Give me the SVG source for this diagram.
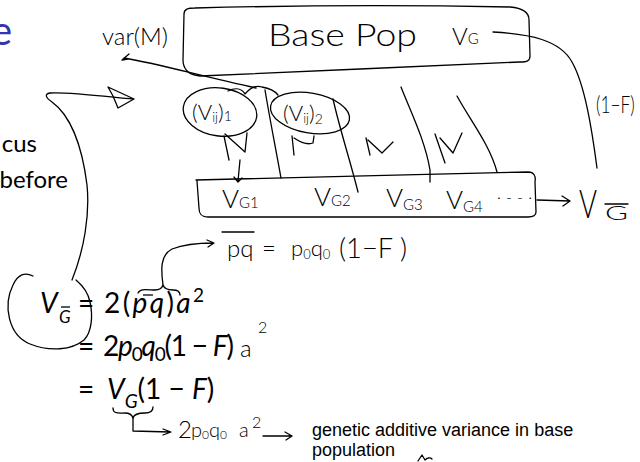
<svg xmlns="http://www.w3.org/2000/svg" width="640" height="462" viewBox="0 0 640 462">
<style>
.slide{font-family:Lato,"Open Sans","Liberation Sans",sans-serif;fill:#000}
.math{font-family:Lato,"Open Sans","Liberation Sans",sans-serif;font-style:italic;fill:#000}
.rm{font-style:normal}
.hw{font-family:Lato,"Liberation Sans",sans-serif;font-weight:300;fill:#000}
.ink{fill:none;stroke:#000;stroke-width:1.3;stroke-linecap:round;stroke-linejoin:round}
.cap{font-family:"Liberation Sans",Arial,sans-serif;font-size:18px;fill:#000}
</style>
<rect width="640" height="462" fill="#fff"/>

<g id="slide-text">
<text class="slide" x="12" y="45" font-size="40" style="fill:#3333b3" text-anchor="end">e</text>
<text class="slide" x="37" y="152" font-size="24" text-anchor="end">cus</text>
<text class="slide" x="68" y="188" font-size="24" text-anchor="end">before</text>
</g>

<g id="base-pop">
<path class="ink" d="M195,8 Q350,4 510,7 C522,8 529,12 529,20 L530,56 C530,61 527,62 520,62 C420,66 300,72 200,76 L195,75 C188,74 183,68 183,60 L184,14 C184,9 188,8 195,8"/>
<text class="hw" x="268" y="46" font-size="32" textLength="149" lengthAdjust="spacingAndGlyphs">Base Pop</text>
<text class="hw" x="452" y="45" font-size="24">V<tspan font-size="15" dy="-1">G</tspan></text>
</g>

<g id="var-m">
<text class="hw" x="102" y="45" font-size="24" textLength="66" lengthAdjust="spacingAndGlyphs">var(M)</text>
</g>

<g id="ellipse-1">
<ellipse class="ink" cx="220" cy="112" rx="37" ry="24" transform="rotate(8 220 112)"/>
<text class="hw" x="192" y="120" font-size="22">(V<tspan font-size="13" dy="2">ij</tspan><tspan dy="-2">)</tspan><tspan font-size="14" dy="1">1</tspan></text>
</g>

<g id="ellipse-2">
<ellipse class="ink" cx="310" cy="113" rx="40" ry="20" transform="rotate(10 310 113)"/>
<text class="hw" x="283" y="121" font-size="22">(V<tspan font-size="13" dy="2">ij</tspan><tspan dy="-2">)</tspan><tspan font-size="14" dy="3">2</tspan></text>
</g>

<g id="lower-box">
<path class="ink" d="M196,180 C300,178 420,174 528,172 C534,172 536,176 535,182 L536,212 C536,216 533,217 528,217 L208,217 C201,217 199,214 199,208 L197,181"/>
<text class="hw" x="222" y="208" font-size="26">V<tspan font-size="15">G1</tspan></text>
<text class="hw" x="314" y="206" font-size="26">V<tspan font-size="15">G2</tspan></text>
<text class="hw" x="386" y="207" font-size="26">V<tspan font-size="15" dy="3">G3</tspan></text>
<text class="hw" x="446" y="209" font-size="26">V<tspan font-size="15" dy="3">G4</tspan></text>
<text class="hw" x="497" y="203" font-size="16" textLength="35">· - - ·</text>
</g>

<g id="marks">
<path class="ink" d="M224,136 L229,160 M225,134 L245,152 L247,133"/>
<path class="ink" d="M292,136 L294,155 M294,138 C300,142 308,145 313,143 L314,136"/>
<path class="ink" d="M366,138 L370,155 M368,140 L382,153 L393,142"/>
<path class="ink" d="M435,134 L445,163 M440,138 L453,153 L462,133"/>
<path class="ink" d="M228,91 C236,87 242,89 245,94 C250,88 256,85 262,87 C268,88 274,90 278,95"/>
</g>

<g id="vg-bar">
<text class="hw" x="579" y="218" font-size="40" textLength="18" lengthAdjust="spacingAndGlyphs">V</text>
<line class="ink" x1="605" y1="204" x2="628" y2="204"/>
<text class="hw" x="605" y="220" font-size="20" textLength="23" lengthAdjust="spacingAndGlyphs">G</text>
<text class="hw" font-size="24" transform="translate(596,113) scale(0.72,1)">(1−F)</text>
</g>

<g id="connectors">
<path class="ink" d="M256,88 C200,76 160,64 124,58 M129,54 L122,60 L128,59"/>
<path class="ink" d="M133,99 C110,97 70,92 50,93 C44,94 46,98 52,102 C70,115 82,145 87,185 C90,215 84,250 72,280"/>
<path class="ink" d="M108,87 L134,99 L118,108 L113,96 Z"/>
<path class="ink" d="M265,90 C270,120 276,150 281,178"/>
<path class="ink" d="M333,99 C340,130 350,160 358,192"/>
<path class="ink" d="M401,87 C410,110 425,140 430,170 L430,182"/>
<path class="ink" d="M457,96 C470,120 490,145 497,172"/>
<path class="ink" d="M493,32 C530,34 560,40 572,62 C585,85 592,130 597,168"/>
<path class="ink" d="M537,200 L570,201 M562,196 L570,201 L563,206"/>
<path class="ink" d="M240,160 L238,181 M234,177 L238,182 L242,178"/>
<path class="ink" d="M163,285 C161,270 160,255 172,249 C185,244 200,243 213,243 M207,240 L214,243 L208,247"/>
<path class="ink" d="M133,418 L133,431 L170,432 M163,429 L171,432 L163,435"/>
<path class="ink" d="M263,436 L292,436 M285,432 L292,436 L286,440"/>
</g>

<g id="equation">
<path class="ink" d="M33,276 C25,272 18,274 13,285 C3,305 8,335 30,344 C50,352 72,350 84,340 C92,332 93,315 90,302 C88,292 82,285 76,280"/>
<text class="math" x="40" y="313" font-size="28">V</text>
<text class="math" x="59" y="323" font-size="17">G</text>
<line x1="61" y1="307" x2="70" y2="307" stroke="#000" stroke-width="1.3"/>
<text class="math rm" x="78" y="313" font-size="28">=</text>
<text class="math" x="104" y="313" font-size="28" textLength="100"><tspan class="rm">2(</tspan>pq<tspan class="rm">)</tspan>a<tspan class="rm" font-size="19" dy="-11">2</tspan></text>
<line x1="143" y1="295" x2="153" y2="295" stroke="#000" stroke-width="1.3"/>
<path class="ink" d="M138,293 C140,288 148,290 155,290 C160,290 162,288 163,285 C164,288 168,290 173,290 C178,290 180,292 180,295"/>

<text class="math rm" x="78" y="356" font-size="28">=</text>
<text class="math" x="103" y="356" font-size="28" textLength="131"><tspan class="rm">2</tspan>p<tspan class="rm" font-size="19" dy="5">0</tspan><tspan dy="-5">q</tspan><tspan class="rm" font-size="19" dy="5">0</tspan><tspan class="rm" dy="-5">(1 − </tspan>F<tspan class="rm">)</tspan></text>
<text class="hw" x="240" y="357" font-size="24">a</text>
<text class="hw" x="258" y="333" font-size="16">2</text>

<text class="math rm" x="78" y="399" font-size="28">=</text>
<text class="math" x="107" y="399" font-size="28">V<tspan font-size="19" dy="9">G</tspan><tspan class="rm" dy="-9">(1 − </tspan>F<tspan class="rm">)</tspan></text>
<path class="ink" d="M113,408 C113,414 118,413 125,413 C130,413 132,415 133,418 C134,414 138,413 145,413 C151,413 153,411 153,407"/>
</g>

<g id="pq-note">
<line class="ink" x1="222" y1="232" x2="254" y2="232"/>
<text class="hw" x="227" y="257" font-size="24">pq</text>
<text class="hw" x="262" y="257" font-size="24">=</text>
<text class="hw" x="291" y="256" font-size="22">p<tspan font-size="13" dy="3">0</tspan><tspan dy="-3">q</tspan><tspan font-size="13" dy="3">0</tspan></text>
<text class="hw" x="339" y="258" font-size="28" textLength="68" lengthAdjust="spacingAndGlyphs">(1−F )</text>
</g>

<g id="base-note">
<text class="hw" x="178" y="438" font-size="24">2</text>
<text class="hw" x="191" y="437" font-size="20">p<tspan font-size="12" dy="2">0</tspan><tspan dy="-2">q</tspan><tspan font-size="12" dy="2">0</tspan></text>
<text class="hw" x="239" y="437" font-size="20">a</text>
<text class="hw" x="252" y="428" font-size="16">2</text>
<text class="cap" x="312" y="436">genetic additive variance in base</text>
<text class="cap" x="312" y="456">population</text>
<path class="ink" d="M418,461 L422,455 L425,460 C427,458 430,457 432,459"/>
</g>
</svg>
